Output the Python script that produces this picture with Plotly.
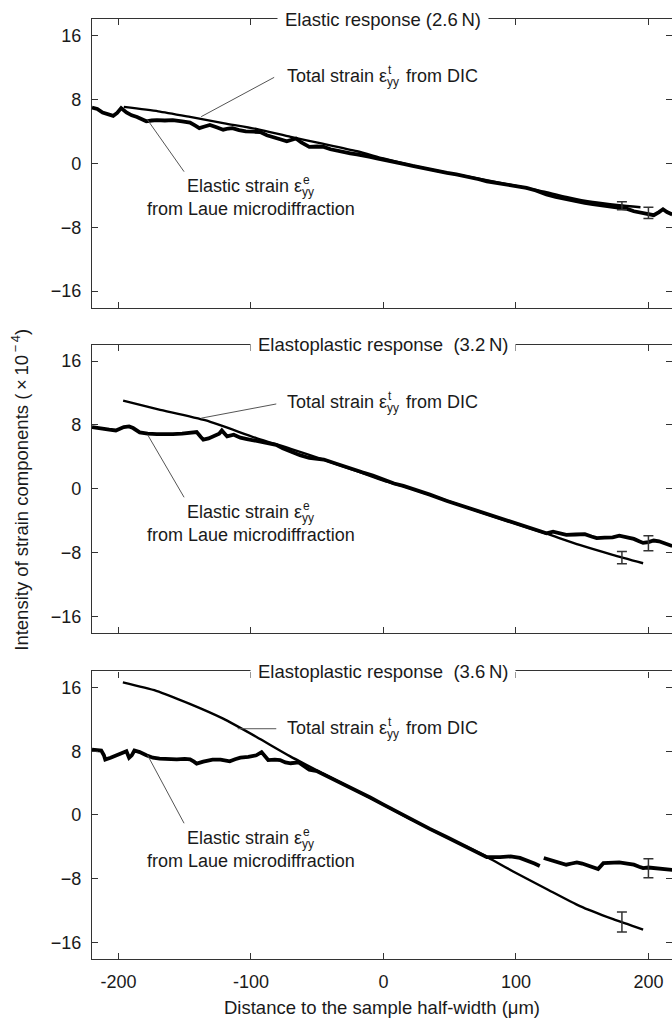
import plotly.graph_objects as go

# ---------------- data ----------------
# Panel 1: Elastic response (2.6 N)
p1_el_x = [-220, -216, -212, -208, -204, -201, -198, -194, -190, -186, -182, -179, -175, -171, -165, -159,
           -152, -146, -142, -139, -135, -131, -126, -121, -117, -114, -109, -104, -98, -93, -88, -83, -78,
           -73, -69, -66, -62, -56, -50, -45, -40, -35, -30, -25, -20, -15, -10, -5, 0, 5, 10, 16, 22, 28,
           35, 42, 48, 55, 60, 65, 72, 78, 85, 93, 100, 108, 115, 123, 130, 138, 145, 152, 158, 165, 172,
           178, 184, 189, 194, 199, 204, 208, 211, 214, 218]
p1_el_y = [6.97, 6.8, 6.35, 6.2, 5.94, 6.3, 6.9, 6.35, 6.0, 5.8, 5.5, 5.25, 5.35, 5.4, 5.35, 5.4,
           5.25, 5.1, 4.7, 4.4, 4.6, 4.8, 4.5, 4.2, 4.35, 4.4, 4.15, 4.0, 3.95, 3.9, 3.5, 3.3, 3.0,
           2.75, 2.9, 3.1, 2.6, 2.05, 2.1, 2.05, 1.75, 1.55, 1.4, 1.25, 1.1, 1.0, 0.8, 0.6, 0.45, 0.3, 0.08, -0.1, -0.33, -0.55,
           -0.75, -1.03, -1.2, -1.4, -1.55, -1.73, -2.0, -2.26, -2.45, -2.67, -2.85, -3.08, -3.4, -3.9, -4.2, -4.5, -4.75, -4.95, -5.1, -5.25, -5.4,
           -5.5, -5.7, -6.0, -6.2, -6.3, -6.5, -6.1, -5.75, -6.1, -6.4]
p1_tot_x = [-196, -170, -146, -120, -96, -70, -46, -20, 0, 22, 42, 65, 93, 108, 123, 138, 158, 178, 194]
p1_tot_y = [7.05, 6.5, 5.8, 5.0, 4.3, 3.3, 2.45, 1.5, 0.6, -0.3, -1.0, -1.7, -2.6, -3.1, -3.6, -4.2, -4.85, -5.25, -5.5]
p1_err_x = [180, 200]
p1_err_y = [-5.3, -6.2]
p1_err_e = [0.5, 0.7]

# Panel 2: Elastoplastic response (3.2 N)
p2_el_x = [-220, -216, -212, -207, -202, -199, -196, -192, -189, -184, -178, -171, -165, -159, -152, -146,
           -141, -138, -136, -132, -128, -124, -122, -120, -118, -113, -108, -103, -97, -91, -86, -81, -76,
           -71, -63, -56, -50, -45, -35, -25, -16, -8, 0, 8, 15, 22, 35, 48, 60, 73, 85, 98, 110, 118, 123,
           128, 133, 138, 145, 152, 157, 161, 167, 173, 178, 184, 189, 193, 196, 200, 204, 208, 211, 215, 218]
p2_el_y = [7.72, 7.6, 7.5, 7.4, 7.3, 7.5, 7.72, 7.8, 7.6, 7.05, 6.9, 6.85, 6.8, 6.85, 6.9, 6.97,
           7.1, 6.5, 6.14, 6.3, 6.55, 6.9, 7.3, 6.9, 6.55, 6.76, 6.4, 6.22, 6.0, 5.8, 5.6, 5.5, 5.05,
           4.68, 4.2, 3.85, 3.8, 3.65, 3.1, 2.5, 2.05, 1.65, 1.1, 0.65, 0.35, 0.0, -0.75, -1.54, -2.2, -2.9, -3.55, -4.23, -4.9, -5.3, -5.6,
           -5.4, -5.6, -5.8, -5.75, -5.7, -6.0, -6.2, -6.15, -6.1, -5.9, -6.1, -6.3, -6.6, -6.8, -6.7, -6.5, -6.6, -6.8, -7.0, -7.2]
p2_tot_x = [-196.5, -170, -134, -96, -70, -45.5, -20, 0, 22, 48, 73, 98, 123, 148, 173, 196]
p2_tot_y = [11.03, 9.95, 8.55, 6.35, 5.0, 3.65, 2.2, 1.0, -0.05, -1.5, -2.95, -4.3, -5.65, -7.06, -8.3, -9.35]
p2_err_x = [180, 200]
p2_err_y = [-8.65, -6.85]
p2_err_e = [0.77, 0.95]

# Panel 3: Elastoplastic response (3.6 N)
p3_el_x = [-220, -216, -213, -211, -210, -206, -201, -197, -194, -192, -190, -188, -184, -179, -174, -169,
           -162, -156, -150, -146, -143, -141, -136, -129, -123, -116, -112, -108, -102, -96, -92, -89, -87,
           -82, -78, -74, -70, -64, -60, -56, -50, -45, -35, -25, -20, -10, 0, 10, 22, 35, 48, 60, 73, 78,
           88, 96, 103, 110, 114, 118, None, 121, 125, 128, 133, 138, 142, 146, 150, 153, 158, 162, 166, 172,
           178, 184, 189, 193, 196, 200, 204, 208, 212, 218]
p3_el_y = [8.2, 8.15, 8.1, 7.5, 6.96, 7.2, 7.5, 7.7, 8.0, 7.2, 7.5, 8.1, 7.9, 7.5, 7.2, 7.08,
           7.0, 7.0, 7.05, 7.0, 6.7, 6.45, 6.7, 6.96, 6.95, 6.75, 7.0, 7.2, 7.3, 7.5, 7.9, 7.3, 6.9,
           6.95, 6.9, 6.6, 6.5, 6.6, 6.1, 5.7, 5.5, 5.1, 4.3, 3.5, 3.1, 2.2, 1.3, 0.4, -0.7, -1.75, -2.8, -3.8, -4.8, -5.3,
           -5.3, -5.2, -5.4, -5.8, -6.1, -6.4, None, -5.4, -5.6, -5.8, -6.0, -6.25, -6.1, -5.96, -6.1, -6.25, -6.5, -6.8, -6.05, -6.0,
           -5.96, -6.1, -6.25, -6.5, -6.67, -6.6, -6.67, -6.75, -6.8, -6.9]
p3_tot_x = [-196.7, -171.5, -146.2, -121, -95.8, -70.7, -45.5, -20.4, 0, 22.4, 47.6, 72.8, 97.9, 123.1, 148.3, 173.4, 196]
p3_tot_y = [16.66, 15.6, 13.96, 12.1, 9.8, 7.4, 5.2, 3.05, 1.3, -0.7, -2.8, -4.8, -7.1, -9.3, -11.46, -13.1, -14.4]
p3_err_x = [180, 200]
p3_err_y = [-13.45, -6.7]
p3_err_e = [1.25, 1.2]

panel_titles = ["Elastic response (2.6\u2009N)",
                "Elastoplastic response \u00a0(3.2\u2009N)",
                "Elastoplastic response \u00a0(3.6\u2009N)"]
x_ticks = [-200, -100, 0, 100, 200]
x_ticktext = ["-200", "-100", "0", "100", "200"]
y_ticks = [-16, -8, 0, 8, 16]
y_ticktext = ["\u221216", "\u22128", "0", "8", "16"]

# ---------------- figure ----------------
FONT = "Liberation Sans, Arial, Helvetica, sans-serif"
INK = "#1a1a1a"
FRAME = "#333333"

fig = go.Figure()

panels = [
    (p1_el_x, p1_el_y, p1_tot_x, p1_tot_y, p1_err_x, p1_err_y, p1_err_e),
    (p2_el_x, p2_el_y, p2_tot_x, p2_tot_y, p2_err_x, p2_err_y, p2_err_e),
    (p3_el_x, p3_el_y, p3_tot_x, p3_tot_y, p3_err_x, p3_err_y, p3_err_e),
]
axis_ids = [("x", "y"), ("x2", "y2"), ("x3", "y3")]

for (elx, ely, tx, ty, ex, ey, ee), (xa, ya) in zip(panels, axis_ids):
    fig.add_trace(go.Scatter(x=tx, y=ty, mode="lines", xaxis=xa, yaxis=ya,
                             line=dict(color="black", width=2.4, shape="spline", smoothing=0.6),
                             showlegend=False, hoverinfo="skip"))
    fig.add_trace(go.Scatter(x=elx, y=ely, mode="lines", xaxis=xa, yaxis=ya,
                             line=dict(color="black", width=3.8), connectgaps=False,
                             showlegend=False, hoverinfo="skip"))
    fig.add_trace(go.Scatter(x=ex, y=ey, mode="markers", xaxis=xa, yaxis=ya,
                             marker=dict(size=1, color="rgba(0,0,0,0)"),
                             error_y=dict(type="data", array=ee, visible=True,
                                          color="#333333", thickness=1.5, width=5),
                             showlegend=False, hoverinfo="skip"))

# invisible traces for the right-hand mirror tick axes
for xa, ya in [("x", "y4"), ("x2", "y5"), ("x3", "y6")]:
    fig.add_trace(go.Scatter(x=[None], y=[None], xaxis=xa, yaxis=ya, showlegend=False,
                             hoverinfo="skip"))

domains = [[0.6926, 1.0], [0.3468, 0.6535], [0.0, 0.306]]
XR = [-220, 217.8]
YR = [-18.1, 18.05]

common_x = dict(range=XR, tickvals=x_ticks, ticktext=x_ticktext, ticks="inside", ticklen=6,
                tickwidth=1.3, tickcolor=FRAME, showline=True, linecolor=FRAME, linewidth=1.4,
                mirror="ticks", showgrid=False, zeroline=False,
                tickfont=dict(family=FONT, size=18, color=INK), fixedrange=True)
common_y = dict(range=YR, tickvals=y_ticks, ticktext=y_ticktext, ticks="inside", ticklen=6,
                tickwidth=1.3, tickcolor=FRAME, showline=True, linecolor=FRAME, linewidth=1.4,
                mirror=False, showgrid=False, zeroline=False, ticklabelstandoff=6,
                tickfont=dict(family=FONT, size=18, color=INK), fixedrange=True)

layout = dict(width=672, height=1020, margin=dict(l=92, r=0, t=19, b=61),
              paper_bgcolor="white", plot_bgcolor="white", showlegend=False,
              font=dict(family=FONT, size=17, color=INK))
for i, (xa, ya) in enumerate(axis_ids):
    xkey = "xaxis" if i == 0 else f"xaxis{i+1}"
    ykey = "yaxis" if i == 0 else f"yaxis{i+1}"
    layout[xkey] = dict(common_x, anchor=ya, domain=[0, 1], showticklabels=(i == 2),
                        ticklabelstandoff=6)
    layout[ykey] = dict(common_y, anchor=xa, domain=domains[i])
    mkey = f"yaxis{i+4}"
    layout[mkey] = dict(range=YR, tickvals=y_ticks, ticks="inside", ticklen=6, tickwidth=1.3,
                        tickcolor=FRAME, showline=False, showgrid=False, zeroline=False,
                        showticklabels=False, overlaying=ya, side="right", anchor=xa,
                        fixedrange=True)
fig.update_layout(**layout)

# ---------------- annotations ----------------
ann = []
leader_total_end = [(-137.6, 5.83), (-137.6, 8.84), (-110.0, 10.84)]
leader_total_start = [(-82.5, 10.75), (-80.9, 10.62), (-80.9, 10.84)]
leader_el_start = [(-150.5, -1.05), (-150.5, -1.08), (-150.5, -1.04)]
leader_el_end = [(-178.0, 5.41), (-178.0, 6.76), (-178.0, 7.5)]

EPS_TOT_X = 3.3      # data x where "Total strain ε" ends
EPS_EL_X = -60.5     # data x where "Elastic strain ε" ends
TXT_Y = 10.9
EL1_Y = -2.9
EL2_Y = -5.75
LINE2_X = -99.8

for i, (xa, ya) in enumerate(axis_ids):
    ydom = f"{ya} domain"
    ann.append(dict(text=panel_titles[i], x=0, y=1, xref=xa, yref=ydom, xanchor="center",
                    yanchor="middle", showarrow=False, bgcolor="white", borderpad=7,
                    font=dict(family=FONT, size=18.5, color=INK)))
    # total strain label
    ann.append(dict(text="Total strain \u03b5", x=EPS_TOT_X, y=TXT_Y, xref=xa, yref=ya,
                    xanchor="right", yanchor="middle", showarrow=False, borderpad=0,
                    font=dict(family=FONT, size=18, color=INK)))
    ann.append(dict(text="t", x=EPS_TOT_X, y=TXT_Y, xref=xa, yref=ya, xanchor="left",
                    yanchor="middle", yshift=6, xshift=-1, showarrow=False, borderpad=0,
                    font=dict(family=FONT, size=12, color=INK)))
    ann.append(dict(text="yy", x=EPS_TOT_X, y=TXT_Y, xref=xa, yref=ya, xanchor="left",
                    yanchor="middle", yshift=-6, xshift=-2, showarrow=False, borderpad=0,
                    font=dict(family=FONT, size=12, color=INK)))
    ann.append(dict(text="from DIC", x=EPS_TOT_X, y=TXT_Y, xref=xa, yref=ya, xanchor="left",
                    yanchor="middle", xshift=17, showarrow=False, borderpad=0,
                    font=dict(family=FONT, size=18, color=INK)))
    # elastic strain label
    ann.append(dict(text="Elastic strain \u03b5", x=EPS_EL_X, y=EL1_Y, xref=xa, yref=ya,
                    xanchor="right", yanchor="middle", showarrow=False, borderpad=0,
                    font=dict(family=FONT, size=18, color=INK)))
    ann.append(dict(text="e", x=EPS_EL_X, y=EL1_Y, xref=xa, yref=ya, xanchor="left",
                    yanchor="middle", yshift=6, xshift=-1, showarrow=False, borderpad=0,
                    font=dict(family=FONT, size=12, color=INK)))
    ann.append(dict(text="yy", x=EPS_EL_X, y=EL1_Y, xref=xa, yref=ya, xanchor="left",
                    yanchor="middle", yshift=-6, xshift=-2, showarrow=False, borderpad=0,
                    font=dict(family=FONT, size=12, color=INK)))
    ann.append(dict(text="from Laue microdiffraction", x=LINE2_X, y=EL2_Y, xref=xa, yref=ya,
                    xanchor="center", yanchor="middle", showarrow=False, borderpad=0,
                    font=dict(family=FONT, size=18, color=INK)))
    # leader lines
    (x0, y0), (x1, y1) = leader_total_start[i], leader_total_end[i]
    fig.add_shape(type="line", x0=x0, y0=y0, x1=x1, y1=y1, xref=xa, yref=ya,
                  line=dict(color="#555555", width=1))
    (x0, y0), (x1, y1) = leader_el_start[i], leader_el_end[i]
    fig.add_shape(type="line", x0=x0, y0=y0, x1=x1, y1=y1, xref=xa, yref=ya,
                  line=dict(color="#555555", width=1))

ann.append(dict(text="Distance to the sample half-width (\u03bcm)", x=0.5, y=-0.0518,
                xref="paper", yref="paper", xanchor="center", yanchor="middle",
                showarrow=False, font=dict(family=FONT, size=18.5, color=INK)))
ann.append(dict(text="Intensity of strain components (\u2009\u00d7\u200910<sup>\u2009\u2212\u20094</sup>)",
                x=-0.124, y=0.4993, xref="paper", yref="paper", xanchor="center",
                yanchor="middle", textangle=-90, showarrow=False,
                font=dict(family=FONT, size=18.5, color=INK)))

fig.update_layout(annotations=ann)
fig.write_html("out.html", config={"displayModeBar": False},
               post_script="document.body.style.margin='0';document.body.style.overflow='hidden';")
